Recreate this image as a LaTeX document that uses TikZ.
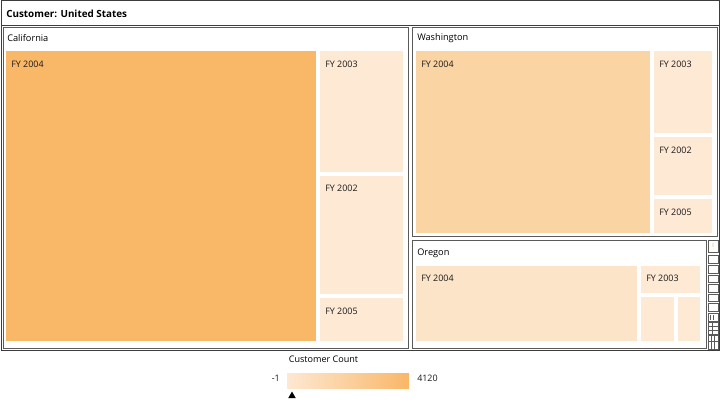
\documentclass[tikz,border=0pt]{standalone}
\usepackage{fontspec}
\setmainfont{Open Sans}
\usetikzlibrary{fit,shapes.geometric}
\definecolor{cmax}{HTML}{F9B768}
\definecolor{cwa}{HTML}{FAD4A3}
\definecolor{cor}{HTML}{FCE4C9}
\definecolor{clt}{HTML}{FDE9D4}
\definecolor{cmin}{HTML}{FDE8D3}
\definecolor{frame}{HTML}{3C3C3C}
\definecolor{gframe}{HTML}{5A5A5A}
\begin{document}
\begin{tikzpicture}[x=0.75pt,y=-0.75pt,
  tile/.style={inner sep=0pt,outer sep=0pt,draw=none},
  grp/.style={inner sep=0pt,outer sep=0pt,draw=gframe,line width=0.75pt},
  lbl/.style={font=\fontsize{6.7}{8}\selectfont,text=black!90,inner sep=0pt,anchor=west},
  glbl/.style={font=\fontsize{6.9}{8}\selectfont,text=black,inner sep=0pt,anchor=west},
  mini/.style={draw=gframe,line width=0.6pt,fill=white}]
\useasboundingbox (0,0) rectangle (720,402);
% outer frame
\node[grp,draw=frame,fit={(1,1) (719,350)}] (outer) {};
\draw[frame,line width=0.75pt] (1,26) -- (719,26);
\node[font=\bfseries\fontsize{7.4}{8}\selectfont,inner sep=0pt,anchor=west] (title) at (6,14) {Customer: United States};
% groups
\node[grp,fit={(3,28) (408,348)}] (cal) {};
\node[grp,fit={(412,28) (717,237)}] (wa) {};
\node[grp,fit={(412,241) (706,348)}] (or) {};
\node[glbl] (calt) at (7,38) {California};
\node[glbl] (wat) at (417,38) {Washington};
\node[glbl] (ort) at (417,253) {Oregon};
% California tiles
\node[tile,fill=cmax,fit={(6,51) (316,341)}] (c04) {};
\node[tile,fill=clt,fit={(320,51) (403,172)}] (c03) {};
\node[tile,fill=clt,fit={(320,176) (403,294)}] (c02) {};
\node[tile,fill=clt,fit={(320,298) (403,341)}] (c05) {};
\node[lbl] at (11,64) {FY 2004};
\node[lbl] at (325,64) {FY 2003};
\node[lbl] at (325,188) {FY 2002};
\node[lbl] at (325,311) {FY 2005};
% Washington tiles
\node[tile,fill=cwa,fit={(416,51) (650,233)}] (w04) {};
\node[tile,fill=clt,fit={(654,51) (712,133)}] (w03) {};
\node[tile,fill=clt,fit={(654,137) (712,195)}] (w02) {};
\node[tile,fill=clt,fit={(654,199) (712,233)}] (w05) {};
\node[lbl] at (421,64) {FY 2004};
\node[lbl] at (659,64) {FY 2003};
\node[lbl] at (659,150) {FY 2002};
\node[lbl] at (659,212) {FY 2005};
% Oregon tiles
\node[tile,fill=cor,fit={(416,266) (637,341)}] (o04) {};
\node[tile,fill=clt,fit={(641,266) (700,293)}] (o03) {};
\node[tile,fill=clt,fit={(641,297) (674,341)}] (oa) {};
\node[tile,fill=clt,fit={(678,297) (700,341)}] (ob) {};
\node[lbl] at (421,278) {FY 2004};
\node[lbl] at (646,278) {FY 2003};
% small column of tiny groups
\draw[mini] (708.5,240.5) rectangle (718.5,252.5);
\fill[clt] (712,243) rectangle (714,247);
\draw[mini] (708.5,255.5) rectangle (718.5,263.5);
\draw[mini] (708.5,265.5) rectangle (718.5,273.5);
\draw[mini] (708.5,275.5) rectangle (718.5,282.5);
\draw[mini] (708.5,284.5) rectangle (718.5,292.5);
\draw[mini] (708.5,294.5) rectangle (718.5,301.5);
\draw[mini] (708.5,303.5) rectangle (718.5,311.5);
\draw[mini] (708.5,313.5) rectangle (718.5,321.5);
\draw[mini] (710,315) -- (710,320) (713,315) -- (713,320);
\draw[mini] (708.5,322.5) rectangle (718.5,334.5);
\draw[gframe,line width=0.5pt] (708.5,326.5) -- (718.5,326.5) (708.5,330.5) -- (718.5,330.5) (712.5,322.5) -- (712.5,334.5);
\draw[mini] (708.5,335.5) rectangle (718.5,349.5);
\draw[gframe,line width=0.5pt] (711.5,335.5) -- (711.5,349.5) (714.5,335.5) -- (714.5,349.5) (708.5,341.5) -- (718.5,341.5);
% legend
\node[font=\fontsize{6.8}{8}\selectfont,inner sep=0pt] (lt) at (323.5,359) {Customer Count};
\node[tile,left color=cmin,right color=cmax,fit={(287,373) (409,388)}] (bar) {};
\node[lbl,anchor=east] (lmin) at (280,378) {-1};
\node[lbl] (lmax) at (417,378) {4120};
\node[isosceles triangle,isosceles triangle apex angle=60,shape border rotate=90,fill=black,inner sep=0pt,minimum height=5pt] (mk) at (292,396) {};
\end{tikzpicture}
\end{document}
